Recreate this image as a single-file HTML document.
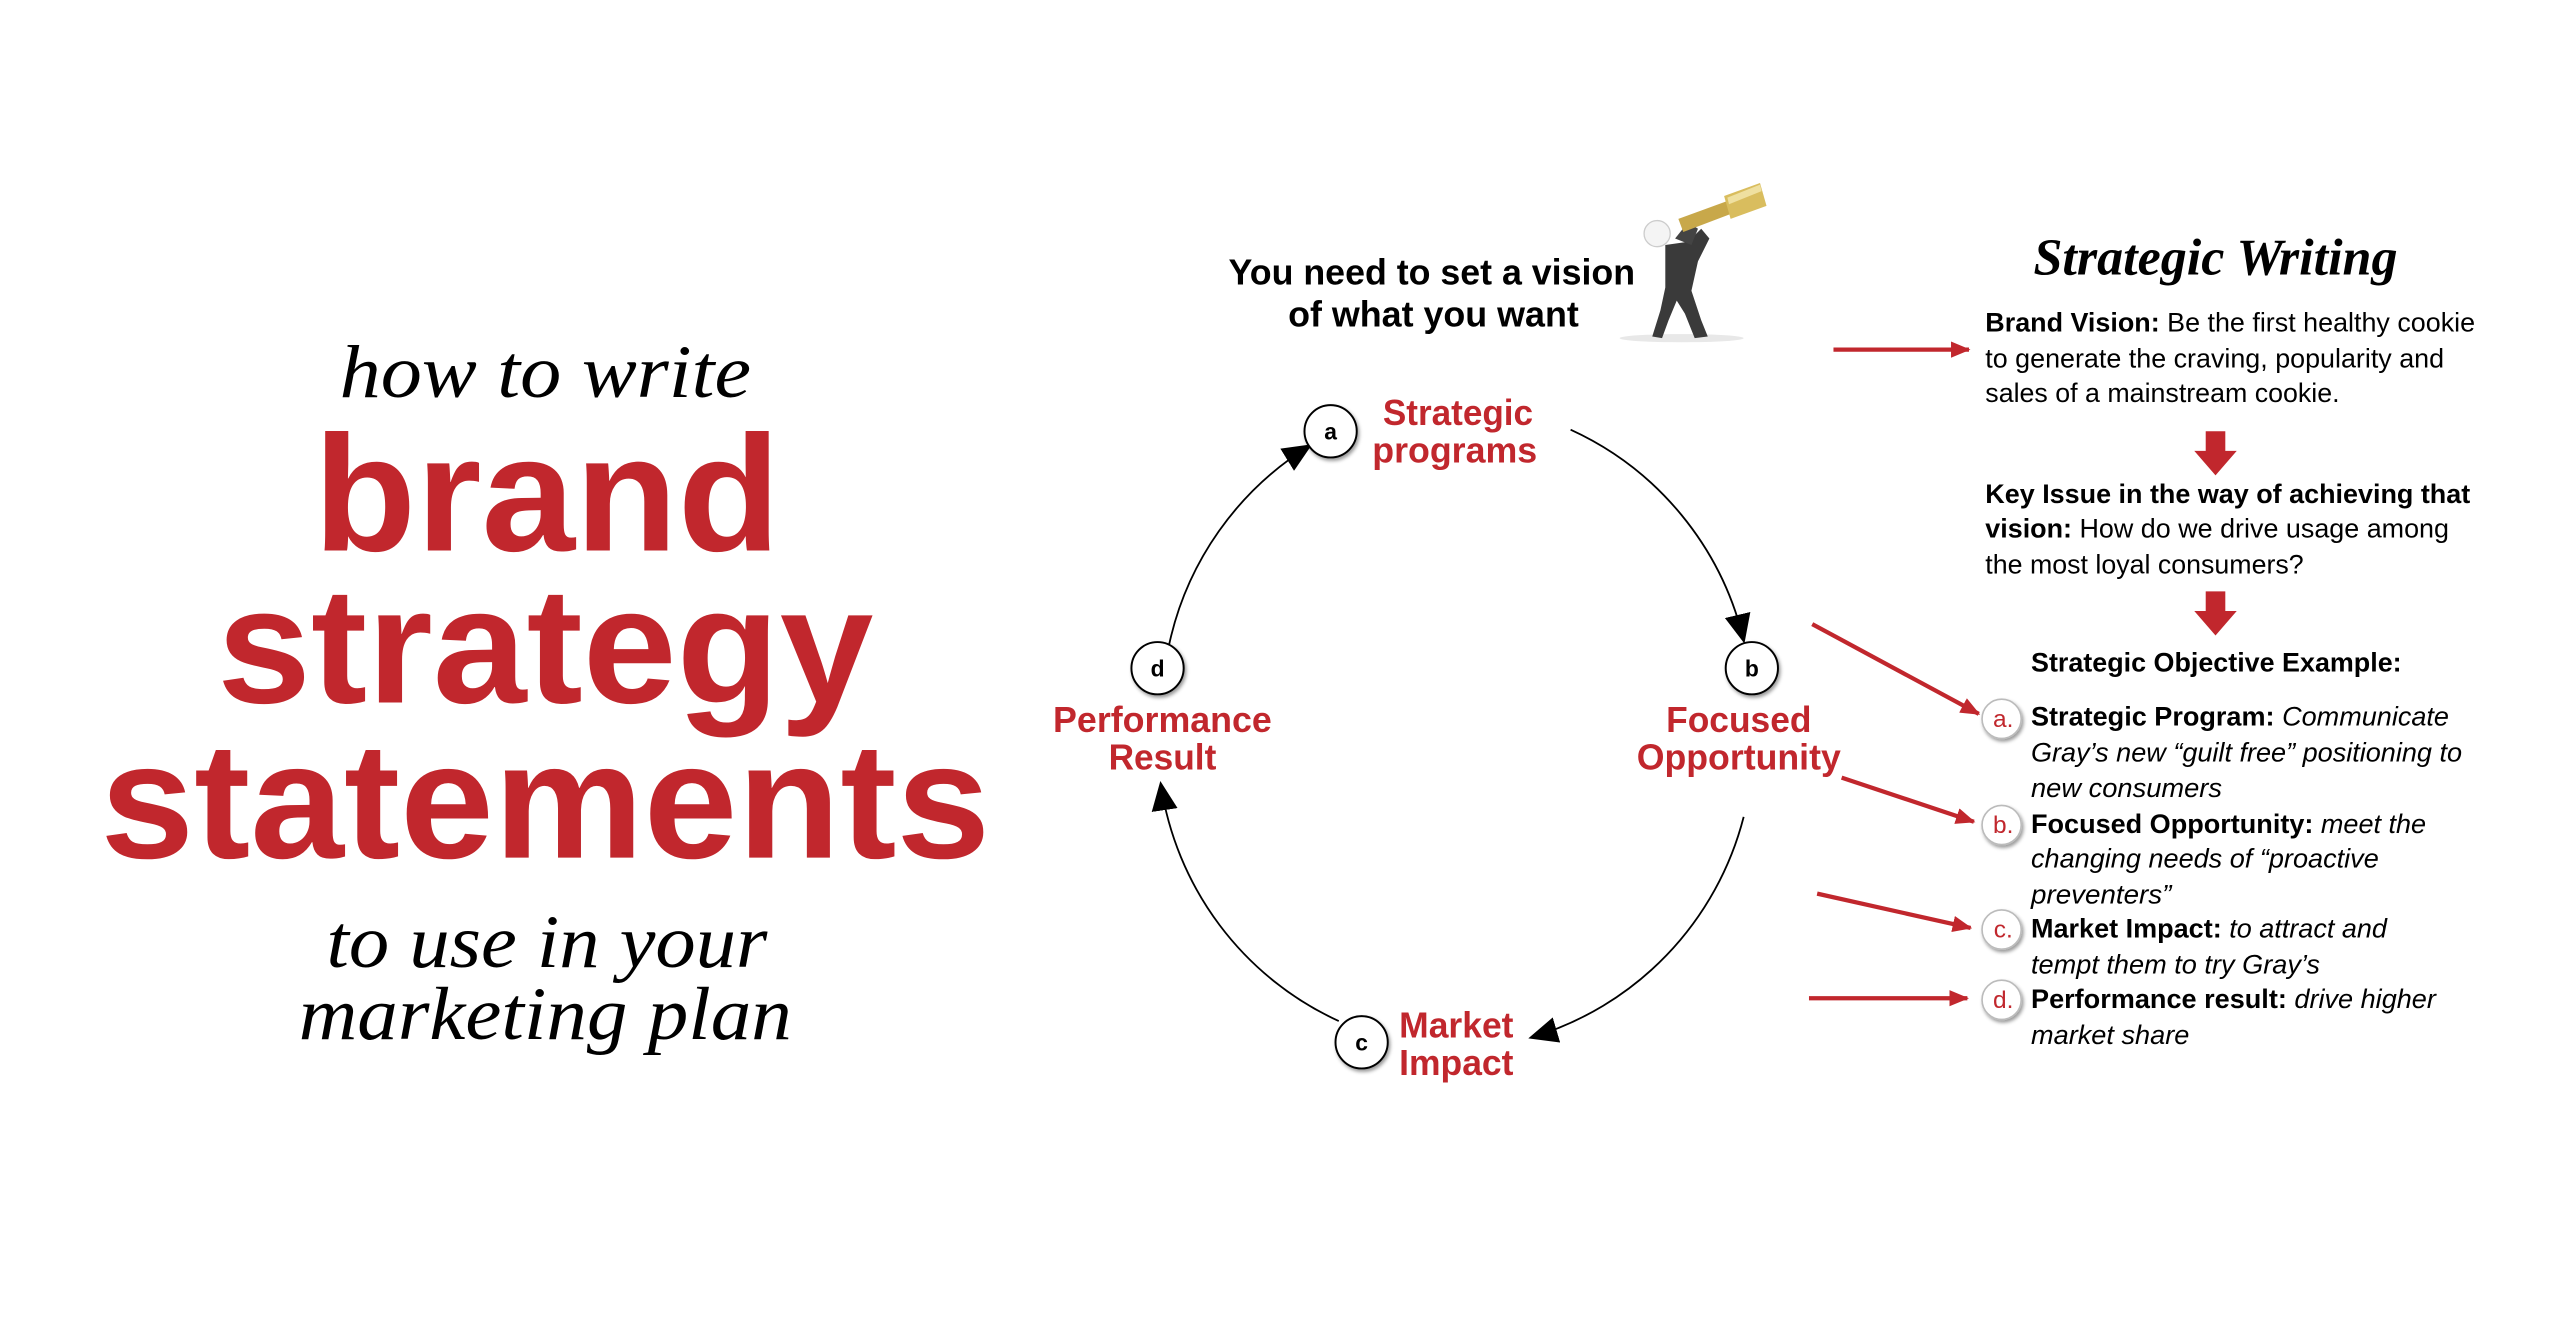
<!DOCTYPE html>
<html><head><meta charset="utf-8"><style>
html,body{margin:0;padding:0;background:#fff;}
svg{display:block;}
.s{font-family:"Liberation Sans",Arial,sans-serif;}
.sf{font-family:"Liberation Serif",serif;font-style:italic;}
</style></head><body>
<svg width="2560" height="1338" viewBox="0 0 1568 819" preserveAspectRatio="none" xmlns="http://www.w3.org/2000/svg">
<defs>
<marker id="ah" markerWidth="18" markerHeight="16" refX="16" refY="8" orient="auto" markerUnits="userSpaceOnUse" viewBox="0 0 18 16">
<path d="M0,0 L18,8 L0,16 z" fill="#000"/></marker>
<marker id="rh" markerWidth="12" markerHeight="12" refX="11" refY="6" orient="auto" markerUnits="userSpaceOnUse" viewBox="0 0 12 12">
<path d="M0,1 L12,6 L0,11 z" fill="#c1272d"/></marker>
<filter id="sh" x="-50%" y="-50%" width="200%" height="200%"><feDropShadow dx="1" dy="1.5" stdDeviation="1.2" flood-opacity="0.4"/></filter>
</defs>
<rect width="1568" height="819" fill="#fff"/>

<text class="sf" x="334" y="243" font-size="46" text-anchor="middle" textLength="252" lengthAdjust="spacingAndGlyphs">how to write</text>
<g class="s" font-weight="bold" fill="#c1272d" text-anchor="middle" font-size="101">
<text x="335" y="337" textLength="286" lengthAdjust="spacingAndGlyphs">brand</text>
<text x="334" y="430" textLength="402" lengthAdjust="spacingAndGlyphs">strategy</text>
<text x="334" y="525" textLength="545" lengthAdjust="spacingAndGlyphs">statements</text>
</g>
<text class="sf" x="335" y="592" font-size="46" text-anchor="middle" textLength="270" lengthAdjust="spacingAndGlyphs">to use in your</text>
<text class="sf" x="334" y="636" font-size="46" text-anchor="middle" textLength="302" lengthAdjust="spacingAndGlyphs">marketing plan</text>

<g class="s" font-weight="bold" font-size="22" text-anchor="middle">
<text x="877" y="174" textLength="249" lengthAdjust="spacingAndGlyphs">You need to set a vision</text>
<text x="878" y="200" textLength="178" lengthAdjust="spacingAndGlyphs">of what you want</text>
</g>

<ellipse cx="1030" cy="207" rx="38" ry="2.5" fill="#e8e8e8"/>
<g>
<path d="M1020,150 L1034,148 L1042,140 L1047,146 L1040,160 L1036,178 L1042,196 L1046,206 L1038,207 L1032,192 L1027,184 L1022,196 L1018,207 L1012,206 L1017,190 L1020,176 Z" fill="#3a3a3a"/>
<path d="M1026,146 L1034,136 L1040,140 L1036,150 Z" fill="#444"/>
<circle cx="1015" cy="143" r="8" fill="#f4f4f4" stroke="#ccc" stroke-width="0.8"/>
<path d="M1028,134 L1058,123 L1060,131 L1031,142 Z" fill="#c8a84a"/>
<path d="M1056,120 L1078,112 L1082,126 L1060,134 Z" fill="#d9bd5e"/>
<path d="M1058,121 L1078,113 L1079,117 L1059,125 Z" fill="#efe0a0"/>
</g>

<g fill="none" stroke="#000" stroke-width="1.1">
<path d="M962,263 A190,190 0 0 1 1068,392" marker-end="url(#ah)"/>
<path d="M1068,500 A190,190 0 0 1 938,635" marker-end="url(#ah)"/>
<path d="M820,625 A190,190 0 0 1 711,480" marker-end="url(#ah)"/>
<path d="M716,395 A190,190 0 0 1 802,273" marker-end="url(#ah)"/>
</g>

<g class="s" font-weight="bold" font-size="14" text-anchor="middle">
<circle cx="815" cy="264" r="16" fill="#fff" stroke="#000" stroke-width="1.2" filter="url(#sh)"/><text x="815" y="269">a</text>
<circle cx="1073" cy="409" r="16" fill="#fff" stroke="#000" stroke-width="1.2" filter="url(#sh)"/><text x="1073" y="414">b</text>
<circle cx="834" cy="638" r="16" fill="#fff" stroke="#000" stroke-width="1.2" filter="url(#sh)"/><text x="834" y="643">c</text>
<circle cx="709" cy="409" r="16" fill="#fff" stroke="#000" stroke-width="1.2" filter="url(#sh)"/><text x="709" y="414">d</text>
</g>

<g class="s" font-weight="bold" font-size="22" fill="#c1272d" text-anchor="middle">
<text x="893" y="260" textLength="92" lengthAdjust="spacingAndGlyphs">Strategic</text>
<text x="891" y="283" textLength="101" lengthAdjust="spacingAndGlyphs">programs</text>
<text x="1065" y="448" textLength="89" lengthAdjust="spacingAndGlyphs">Focused</text>
<text x="1065" y="471" textLength="125" lengthAdjust="spacingAndGlyphs">Opportunity</text>
<text x="712" y="448" textLength="134" lengthAdjust="spacingAndGlyphs">Performance</text>
<text x="712" y="471" textLength="66" lengthAdjust="spacingAndGlyphs">Result</text>
<text x="892" y="635" textLength="70" lengthAdjust="spacingAndGlyphs">Market</text>
<text x="892" y="658" textLength="70" lengthAdjust="spacingAndGlyphs">Impact</text>
</g>

<text class="sf" x="1357" y="168" font-size="32" font-weight="bold" text-anchor="middle" textLength="223" lengthAdjust="spacingAndGlyphs">Strategic Writing</text>

<g class="s" font-size="16.5">
<text x="1216" y="203" textLength="300" lengthAdjust="spacingAndGlyphs"><tspan font-weight="bold">Brand Vision:</tspan> Be the first healthy cookie</text>
<text x="1216" y="225" textLength="281" lengthAdjust="spacingAndGlyphs">to generate the craving, popularity and</text>
<text x="1216" y="246" textLength="217" lengthAdjust="spacingAndGlyphs">sales of a mainstream cookie.</text>
<text x="1216" y="308" font-weight="bold" textLength="297" lengthAdjust="spacingAndGlyphs">Key Issue in the way of achieving that</text>
<text x="1216" y="329" textLength="284" lengthAdjust="spacingAndGlyphs"><tspan font-weight="bold">vision:</tspan> How do we drive usage among</text>
<text x="1216" y="351" textLength="195" lengthAdjust="spacingAndGlyphs">the most loyal consumers?</text>
<text x="1244" y="411" font-weight="bold" textLength="227" lengthAdjust="spacingAndGlyphs">Strategic Objective Example:</text>
<text x="1244" y="444" textLength="256" lengthAdjust="spacingAndGlyphs"><tspan font-weight="bold">Strategic Program:</tspan> <tspan font-style="italic">Communicate</tspan></text>
<text x="1244" y="466" font-style="italic" textLength="264" lengthAdjust="spacingAndGlyphs">Gray’s new “guilt free” positioning to</text>
<text x="1244" y="488" font-style="italic" textLength="117" lengthAdjust="spacingAndGlyphs">new consumers</text>
<text x="1244" y="510" textLength="242" lengthAdjust="spacingAndGlyphs"><tspan font-weight="bold">Focused Opportunity:</tspan> <tspan font-style="italic">meet the</tspan></text>
<text x="1244" y="531" font-style="italic" textLength="213" lengthAdjust="spacingAndGlyphs">changing needs of “proactive</text>
<text x="1244" y="553" font-style="italic" textLength="86" lengthAdjust="spacingAndGlyphs">preventers”</text>
<text x="1244" y="574" textLength="218" lengthAdjust="spacingAndGlyphs"><tspan font-weight="bold">Market Impact:</tspan> <tspan font-style="italic">to attract and</tspan></text>
<text x="1244" y="596" font-style="italic" textLength="177" lengthAdjust="spacingAndGlyphs">tempt them to try Gray’s</text>
<text x="1244" y="617" textLength="248" lengthAdjust="spacingAndGlyphs"><tspan font-weight="bold">Performance result:</tspan> <tspan font-style="italic">drive higher</tspan></text>
<text x="1244" y="639" font-style="italic" textLength="97" lengthAdjust="spacingAndGlyphs">market share</text>
</g>

<g class="s" font-size="15" fill="#c1272d" text-anchor="middle">
<circle cx="1226" cy="440" r="12" fill="#fff" stroke="#bbb" stroke-width="1" filter="url(#sh)"/><text x="1227" y="445">a.</text>
<circle cx="1226" cy="505" r="12" fill="#fff" stroke="#bbb" stroke-width="1" filter="url(#sh)"/><text x="1227" y="510">b.</text>
<circle cx="1226" cy="569" r="12" fill="#fff" stroke="#bbb" stroke-width="1" filter="url(#sh)"/><text x="1227" y="574">c.</text>
<circle cx="1226" cy="612" r="12" fill="#fff" stroke="#bbb" stroke-width="1" filter="url(#sh)"/><text x="1227" y="617">d.</text>
</g>

<path d="M1351,264 L1363,264 L1363,276 L1370,276 L1357,291 L1344,276 L1351,276 Z" fill="#c1272d"/>
<path d="M1351,362 L1363,362 L1363,374 L1370,374 L1357,389 L1344,374 L1351,374 Z" fill="#c1272d"/>

<g stroke="#c1272d" stroke-width="2.6" fill="none">
<line x1="1123" y1="214" x2="1206" y2="214" marker-end="url(#rh)"/>
<line x1="1110" y1="382" x2="1212" y2="437" marker-end="url(#rh)"/>
<line x1="1128" y1="476" x2="1209" y2="503" marker-end="url(#rh)"/>
<line x1="1113" y1="547" x2="1207" y2="568" marker-end="url(#rh)"/>
<line x1="1108" y1="611" x2="1205" y2="611" marker-end="url(#rh)"/>
</g>
</svg>
</body></html>
